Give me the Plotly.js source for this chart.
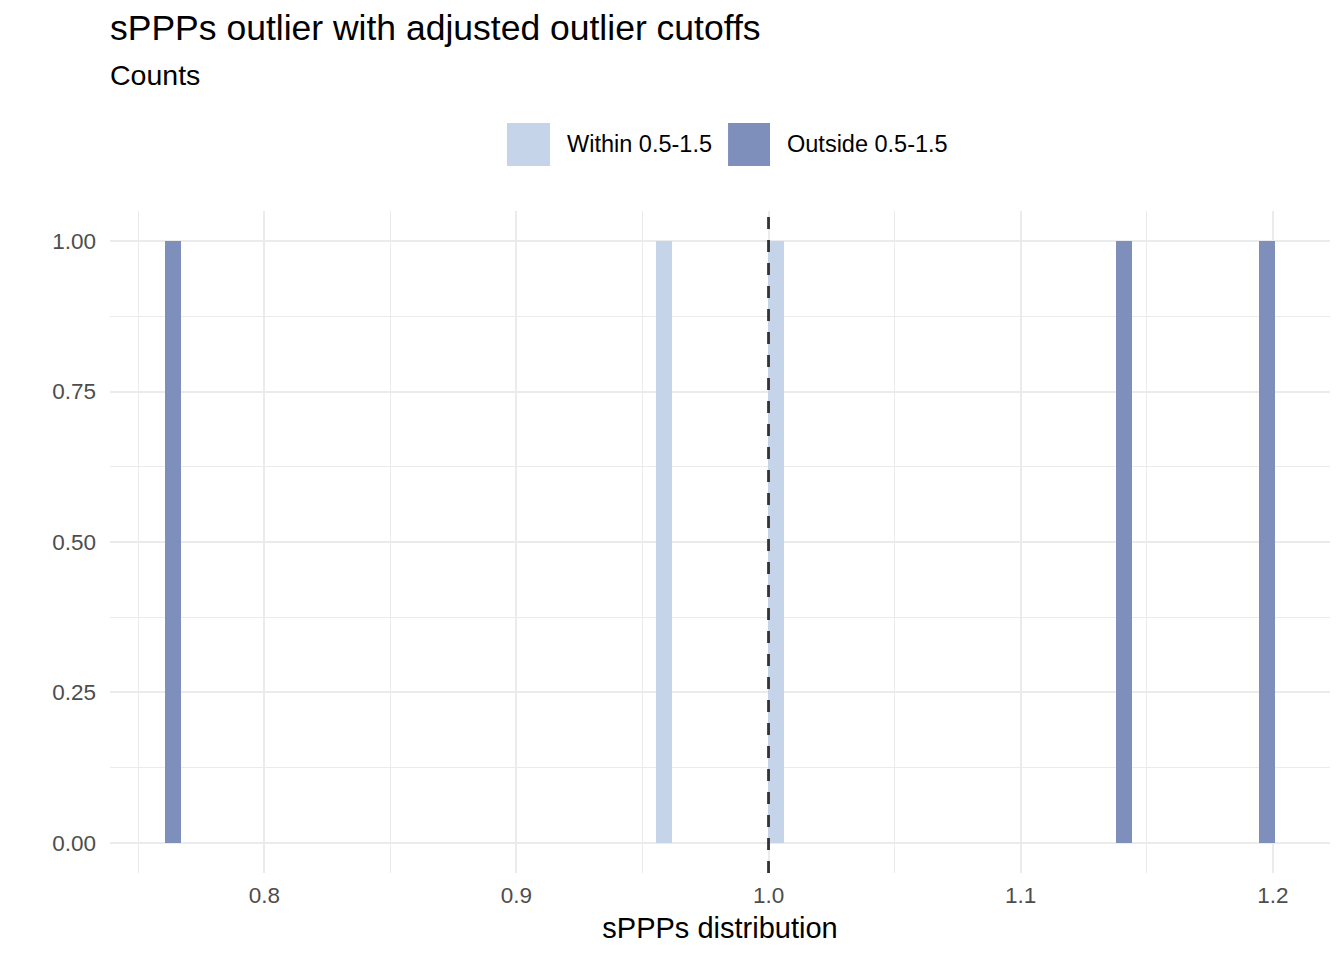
<!DOCTYPE html>
<html>
<head>
<meta charset="utf-8">
<script src="https://cdn.plot.ly/plotly-3.0.1.min.js"></script>
<style>
  html, body { margin: 0; padding: 0; background: #fff; }
  #myPlot { width: 1344px; height: 960px; }
</style>
</head>
<body>
<div id="myPlot"></div>
<script>
// bin centres, each bin holds one value
const withinX = [0.9587, 1.0028]
const withinCounts = [1, 1]
const outsideX = [0.7639, 1.1411, 1.1976]
const outsideCounts = [1, 1, 1]
const binWidth = 0.0064
const cutoff = 1.0
const legendNames = ['Within 0.5-1.5', 'Outside 0.5-1.5']
const xTicks = [0.8, 0.9, 1.0, 1.1, 1.2]
const xTickText = ['0.8', '0.9', '1.0', '1.1', '1.2']
const yTicks = [0, 0.25, 0.5, 0.75, 1]
const yTickText = ['0.00', '0.25', '0.50', '0.75', '1.00']

const lightCol = '#c6d4ea'
const darkCol = '#7f8fbb'
const font = 'Liberation Sans, Arial, sans-serif'

const within = {
  type: 'bar',
  name: legendNames[0],
  x: withinX,
  y: withinCounts,
  width: withinX.map(() => binWidth),
  marker: { color: lightCol, line: { width: 0 } },
  showlegend: false,
  hoverinfo: 'x+y'
}

const outside = {
  type: 'bar',
  name: legendNames[1],
  x: outsideX,
  y: outsideCounts,
  width: outsideX.map(() => binWidth),
  marker: { color: darkCol, line: { width: 0 } },
  showlegend: false,
  hoverinfo: 'x+y'
}

// legend keys drawn by hand so they can be as big as ggplot's
const keyShapes = [
  { x0: 0.3254, x1: 0.3607, col: lightCol },
  { x0: 0.5066, x1: 0.5410, col: darkCol }
].map(k => ({
  type: 'rect', xref: 'paper', yref: 'paper',
  x0: k.x0, x1: k.x1, y0: 1.068, y1: 1.133,
  fillcolor: k.col, line: { width: 0 }
}))

const keyLabels = [0.3730, 0.5533].map((x, i) => ({
  xref: 'paper', yref: 'paper', x: x, y: 1.101,
  xanchor: 'left', yanchor: 'middle', showarrow: false,
  text: legendNames[i],
  font: { family: font, size: 23.5, color: '#000' }
}))

const subtitle = {
  xref: 'paper', yref: 'paper', x: -0.0016, y: 1.2054,
  xanchor: 'left', yanchor: 'middle', showarrow: false,
  text: 'Counts',
  font: { family: font, size: 28.5, color: '#000' }
}

const layout = {
  width: 1344,
  height: 960,
  paper_bgcolor: '#fff',
  plot_bgcolor: '#fff',
  margin: { l: 110, r: 14, t: 211, b: 87 },
  bargap: 0,
  barmode: 'overlay',
  title: {
    text: 'sPPPs outlier with adjusted outlier cutoffs',
    font: { family: font, size: 35.5, color: '#000' },
    xref: 'container', x: 110 / 1344, xanchor: 'left',
    yref: 'container', y: 1 - 15 / 960, yanchor: 'top'
  },
  xaxis: {
    range: [0.7388, 1.2227],
    tickvals: xTicks,
    ticktext: xTickText,
    ticks: '',
    ticklabelstandoff: 6,
    tickfont: { family: font, size: 22.5, color: '#4d4d4d' },
    showgrid: true,
    gridcolor: '#ebebeb',
    gridwidth: 2.4,
    minor: { tick0: 0.75, dtick: 0.05, showgrid: true, gridcolor: '#ebebeb', gridwidth: 1.2 },
    zeroline: false,
    showline: false,
    title: {
      text: 'sPPPs distribution',
      font: { family: font, size: 29, color: '#000' },
      standoff: 11
    }
  },
  yaxis: {
    range: [-0.05, 1.05],
    tickvals: yTicks,
    ticktext: yTickText,
    ticks: '',
    ticklabelstandoff: 13,
    tickfont: { family: font, size: 22.5, color: '#4d4d4d' },
    showgrid: true,
    gridcolor: '#ebebeb',
    gridwidth: 2.4,
    minor: { tick0: 0.125, dtick: 0.25, showgrid: true, gridcolor: '#ebebeb', gridwidth: 1.2 },
    zeroline: false,
    showline: false
  },
  shapes: [
    {
      type: 'line', xref: 'x', yref: 'paper',
      x0: cutoff, x1: cutoff, y0: 0, y1: 1,
      line: { color: '#333', width: 2.8, dash: '12px,11px' },
      layer: 'above'
    },
    ...keyShapes
  ],
  annotations: [subtitle, ...keyLabels]
}

Plotly.newPlot('myPlot', [within, outside], layout, { displayModeBar: false })
</script>
</body>
</html>
